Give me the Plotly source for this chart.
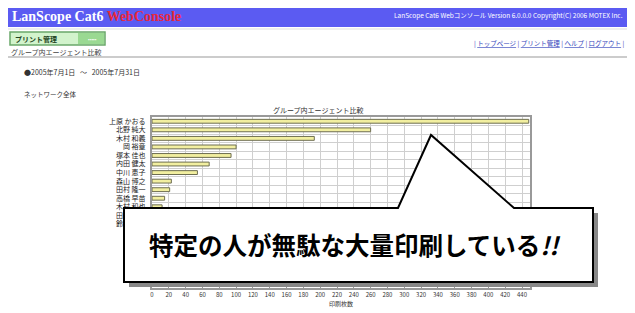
import plotly.graph_objects as go

# ---- data ----
names = ["上原 かおる", "北野 純大", "木村 和義", "岡 裕章", "塚本 佳也", "内田 健太",
         "中川 恵子", "森山 博之", "田村 隆一", "高橋 早苗", "木村 和也", "田中 一郎", "鈴木 直樹"]
prints = [448, 260, 193, 100, 94, 68, 54, 23, 21, 15, 12, 9, 6]
x_ticks = list(range(0, 441, 20))
n_rows = 20

W, H = 635, 313
OFF = 8  # page body margin: figure starts 8px in from the window corner
L, R, T, B = 152 - OFF, 530 - OFF, 117 - OFF, 288 - OFF
JP = "Noto Sans CJK JP"

def px(x):
    return (x - OFF - L) / (R - L)

def py(y):
    return (B - (y - OFF)) / (B - T)

fig = go.Figure()
fig.add_trace(go.Bar(
    y=list(range(len(names))), x=prints, orientation="h", width=0.45,
    marker=dict(color="#f2efa0", line=dict(color="#6d6d50", width=1)),
    hoverinfo="skip",
))

shapes = []
ann = []

def A(text, x, y, xa="left", size=7, color="#333333", family=JP, weight="normal"):
    ann.append(dict(text=text, x=px(x), y=py(y), xref="paper", yref="paper", xanchor=xa,
                    yanchor="middle", showarrow=False,
                    font=dict(family=family, size=size, color=color, weight=weight)))

# header bar
shapes.append(dict(type="rect", xref="paper", yref="paper", x0=px(5), x1=px(630), y0=py(4), y1=py(27),
                   fillcolor="#5b5bf2", line=dict(width=0), layer="below"))
shapes.append(dict(type="line", xref="paper", yref="paper", x0=px(5), x1=px(630), y0=py(29), y1=py(29),
                   line=dict(color="#dddddd", width=1)))
shapes.append(dict(type="line", xref="paper", yref="paper", x0=px(5), x1=px(630), y0=py(57), y1=py(57),
                   line=dict(color="#cccccc", width=2)))
# green button
shapes.append(dict(type="rect", xref="paper", yref="paper", x0=px(10), x1=px(105), y0=py(32), y1=py(45),
                   fillcolor="#d2f3cc", line=dict(color="#6aa86a", width=1.5)))
shapes.append(dict(type="rect", xref="paper", yref="paper", x0=px(78), x1=px(104), y0=py(33), y1=py(44),
                   fillcolor="#9ad992", line=dict(width=0)))

A("LanScope Cat6 <span style='color:#e8283c'>WebConsole</span>", 10, 16, size=14, color="white",
  family="Liberation Serif", weight="bold")
A("LanScope Cat6 Webコンソール Version 6.0.0.0 Copyright(C) 2006 MOTEX Inc.", 625, 15, xa="right",
  size=6.5, color="white")
A("プリント管理", 13, 38.5, color="#224422", weight="bold")
A("•••••", 99, 38.5, xa="right", size=5, color="white")
A("グループ内エージェント比較", 9, 52, color="#444444")
A("| <u>トップページ</u> | <u>プリント管理</u> | <u>ヘルプ</u> | <u>ログアウト</u> |", 627, 43, xa="right",
  size=6.5, color="#3344bb")
A("●2005年7月1日&nbsp;&nbsp; ～ &nbsp;&nbsp;2005年7月31日", 22, 72)
A("ネットワーク全体", 22, 94, size=6.5)
A("グループ内エージェント比較", 318, 110, xa="center")

# callout shadow + body
shapes.append(dict(type="rect", xref="paper", yref="paper", x0=px(129), x1=px(598), y0=py(213), y1=py(287),
                   fillcolor="#888888", line=dict(width=0)))
path = "M {} {} L {} {} L {} {} L {} {} L {} {} L {} {} L {} {} Z".format(
    px(124), py(208), px(398), py(208), px(431), py(135), px(514), py(208),
    px(593), py(208), px(593), py(282), px(124), py(282))
shapes.append(dict(type="path", xref="paper", yref="paper", path=path, fillcolor="white",
                   line=dict(color="black", width=2)))
A("特定の人が無駄な大量印刷している<i>!!</i>", 147, 244, size=24.5, color="black", weight="bold")

fig.update_layout(
    width=W, height=H, margin=dict(l=L, r=W - R, t=T, b=H - B, autoexpand=False),
    paper_bgcolor="white", plot_bgcolor="white", showlegend=False,
    shapes=shapes, annotations=ann,
    xaxis=dict(range=[0, 449.5], tickvals=x_ticks, ticktext=[str(v) for v in x_ticks],
               showgrid=True, gridcolor="#cfcfcf", gridwidth=1, zeroline=False, automargin=False,
               showline=True, linecolor="#999999", linewidth=2, mirror=True,
               ticks="inside", ticklen=3, tickcolor="#999999",
               tickfont=dict(family=JP, size=6, color="#333333"),
               title=dict(text="印刷枚数", font=dict(family=JP, size=6, color="#333333"), standoff=2)),
    yaxis=dict(range=[n_rows - 0.5, -0.5], tickvals=list(range(len(names))), ticktext=names,
               showgrid=False, zeroline=False, automargin=False,
               minor=dict(tick0=0.5, dtick=1, showgrid=True, gridcolor="#cfcfcf", gridwidth=1),
               showline=True, linecolor="#999999", linewidth=2, mirror=True, ticks="",
               tickfont=dict(family=JP, size=7, color="#222222"), ticklabelstandoff=3),
)

fig.write_html("out.html")
